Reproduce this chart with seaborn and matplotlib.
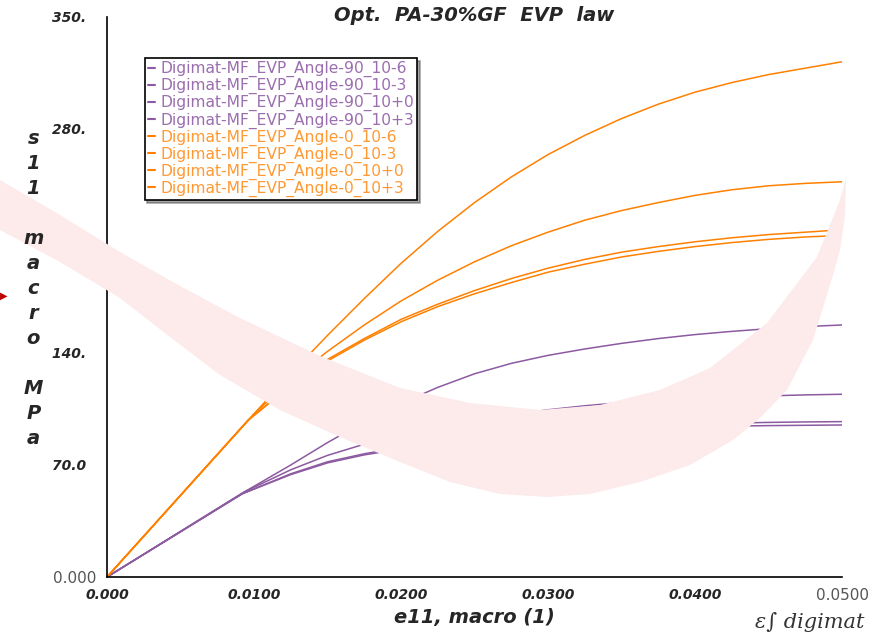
import numpy as np
import pandas as pd
import matplotlib
matplotlib.use("Agg")
import matplotlib.pyplot as plt
from matplotlib.patches import Polygon
import seaborn as sns

# strain grid after the elastic part
strain = [0.0125, 0.015, 0.0175, 0.02, 0.0225, 0.025, 0.0275, 0.03,
          0.0325, 0.035, 0.0375, 0.04, 0.0425, 0.045, 0.0475, 0.05]

series_names = [
    "Digimat-MF_EVP_Angle-90_10-6",
    "Digimat-MF_EVP_Angle-90_10-3",
    "Digimat-MF_EVP_Angle-90_10+0",
    "Digimat-MF_EVP_Angle-90_10+3",
    "Digimat-MF_EVP_Angle-0_10-6",
    "Digimat-MF_EVP_Angle-0_10-3",
    "Digimat-MF_EVP_Angle-0_10+0",
    "Digimat-MF_EVP_Angle-0_10+3",
]

# end of the elastic line (strain, stress) for each series
knee_x = [0.0092, 0.0092, 0.0093, 0.0095, 0.0096, 0.0096, 0.0100, 0.0104]
knee_y = [52.0, 52.0, 53.0, 54.0, 98.0, 98.0, 102.0, 106.0]

s90_m6 = [64.0, 71.3, 76.3, 80.0, 83.3, 86.0, 88.0, 89.8, 91.2, 92.3, 93.2, 93.8, 94.3, 94.6, 94.8, 95.0]
s90_m3 = [64.5, 72.0, 77.0, 81.0, 84.5, 87.5, 89.5, 91.5, 93.0, 94.0, 95.0, 95.7, 96.2, 96.6, 96.9, 97.1]
s90_p0 = [67.0, 76.0, 83.0, 89.0, 94.0, 98.0, 101.5, 104.5, 107.0, 109.0, 110.5, 111.7, 112.5, 113.2, 113.8, 114.2]
s90_p3 = [70.0, 84.0, 97.0, 108.5, 118.5, 127.0, 133.5, 138.5, 142.5, 146.0, 149.0, 151.5, 153.5, 155.2, 156.5, 157.5]
s0_m6 = [119.5, 135.0, 148.0, 159.5, 169.0, 177.0, 184.0, 190.5, 195.5, 200.0, 203.5, 206.5, 209.0, 211.0, 212.5, 213.5]
s0_m3 = [120.0, 136.0, 149.0, 161.0, 170.5, 179.0, 186.5, 193.0, 198.5, 203.0, 206.5, 209.5, 212.0, 214.0, 215.5, 217.0]
s0_p0 = [123.0, 141.0, 157.5, 172.5, 185.5, 197.0, 207.0, 215.5, 223.0, 229.0, 234.0, 238.5, 242.0, 244.5, 246.0, 247.0]
s0_p3 = [127.0, 151.0, 174.0, 196.0, 216.0, 234.0, 250.0, 264.0, 276.0, 286.5, 295.5, 303.0, 309.0, 314.0, 318.0, 322.0]

stress = [s90_m6, s90_m3, s90_p0, s90_p3, s0_m6, s0_m3, s0_p0, s0_p3]

purple = "#8c5aa0"
orange = "#ff8000"
purple_txt = "#9b6eaf"
orange_txt = "#ff9933"

rows = []
for name, kx, ky, ys in zip(series_names, knee_x, knee_y, stress):
    xs = [0.0, kx] + strain
    yv = [0.0, ky] + ys
    for i, (a, b) in enumerate(zip(xs, yv)):
        rows.append({"series": name, "order": i, "e11": a, "s11": b})
df = pd.DataFrame(rows)

palette = {n: (purple if "Angle-90" in n else orange) for n in series_names}

sns.set_style("white")
plt.rcParams["font.family"] = ["DejaVu Sans"]

W, H = 878, 636
fig = plt.figure(figsize=(W / 100, H / 100), dpi=100)
ax = fig.add_axes([0.1219, 0.0928, 0.8371, 0.8805])
ax.set_facecolor("none")

# background watermark swoosh (pixel outline of the logo shape)
wm_top = [(0, 180), (60, 215), (120, 252), (180, 286), (240, 318), (320, 356),
          (400, 388), (470, 403), (540, 410), (600, 405), (660, 390), (710, 368),
          (767, 323), (817, 257), (840, 200), (846, 178)]
wm_bottom = [(845, 215), (840, 250), (833, 275), (813, 340), (787, 390), (760, 418),
             (733, 440), (690, 465), (640, 482), (590, 494), (547, 497), (500, 494),
             (450, 482), (400, 462), (340, 437), (280, 410), (220, 375), (170, 337),
             (120, 298), (60, 262), (0, 230)]
outline = [(px / W, 1 - py / H) for px, py in wm_top + wm_bottom]
fig.patches.append(Polygon(outline, closed=True, transform=fig.transFigure,
                           facecolor="#fdeaea", edgecolor="none", zorder=0))
fig.text(0.0, 0.535, "\u25B6", color="#c00000", fontsize=7, ha="left", va="center")

sns.lineplot(data=df, x="e11", y="s11", hue="series", units="series",
             estimator=None, sort=False, palette=palette, linewidth=1.1,
             legend=False, ax=ax)

ax.set_xlim(0, 0.05)
ax.set_ylim(0, 350)
ax.set_xticks([0, 0.01, 0.02, 0.03, 0.04, 0.05])
ax.set_yticks([0, 70, 140, 210, 280, 350])
ax.set_xticklabels(["0.000", "0.0100", "0.0200", "0.0300", "0.0400", "0.0500"])
ax.set_yticklabels(["0.000", "70.0  ", "140.  ", "210.  ", "280.  ", "350.  "])
for lab in ax.get_xticklabels() + ax.get_yticklabels():
    lab.set_fontsize(10)
    lab.set_fontweight("bold")
    lab.set_fontstyle("italic")
for lab in [ax.get_xticklabels()[-1], ax.get_yticklabels()[0]]:
    lab.set_fontweight("normal")
    lab.set_fontstyle("normal")
    lab.set_color("#555555")
    lab.set_fontsize(11)

ax.tick_params(axis="both", direction="out", length=5, width=1, color="black", pad=3)
sns.despine(ax=ax)
for sp in ["left", "bottom"]:
    ax.spines[sp].set_color("black")
    ax.spines[sp].set_linewidth(1.2)
ax.set_xlabel("")
ax.set_ylabel("")

fig.text(0.540, 0.976, "Opt.  PA-30%GF  EVP  law", ha="center", va="center",
         fontsize=14, fontweight="bold", fontstyle="italic")
fig.text(0.540, 0.029, "e11, macro (1)", ha="center", va="center",
         fontsize=14, fontweight="bold", fontstyle="italic")
fig.text(0.038, 0.5456, "s\n1\n1\n\nm\na\nc\nr\no\n\nM\nP\na", ha="center", va="center",
         fontsize=14, fontweight="bold", fontstyle="italic", linespacing=1.40)
fig.text(0.985, 0.022, "\u03b5\u222b digimat", ha="right", va="center", fontsize=15,
         fontstyle="italic", family="DejaVu Serif", color="#333333")

handles = [plt.Line2D([], [], color=palette[n], lw=1.5) for n in series_names]
leg = ax.legend(handles, series_names, loc="upper left", bbox_to_anchor=(0.051, 0.927),
                borderaxespad=0, fontsize=11.2, handlelength=0.45, handletextpad=0.35,
                labelspacing=0.06, borderpad=0.2, frameon=True, fancybox=False,
                shadow=True, edgecolor="black",
                labelcolor=[purple_txt] * 4 + [orange_txt] * 4)
leg.get_frame().set_linewidth(1.2)

fig.savefig("out.png", dpi=100)
